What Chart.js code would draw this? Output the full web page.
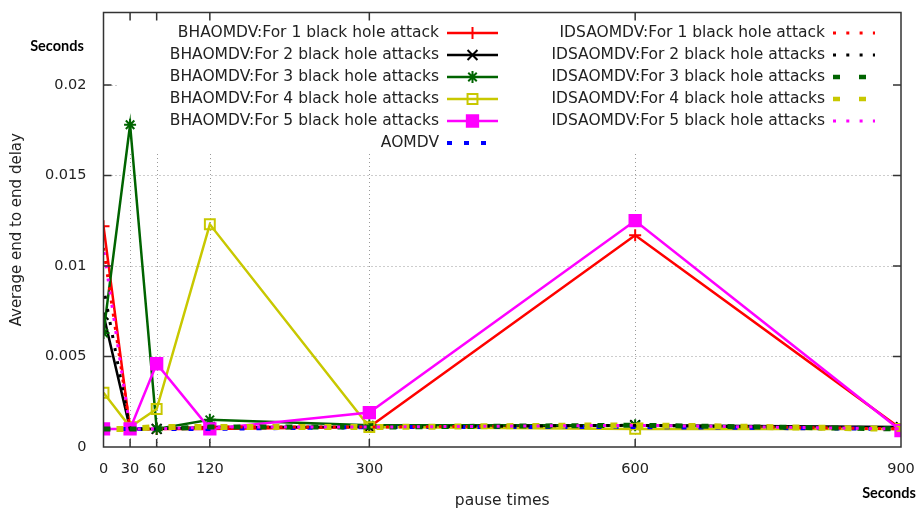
<!DOCTYPE html>
<html>
<head>
<meta charset="utf-8">
<script src="https://cdn.jsdelivr.net/npm/chart.js@4.4.1/dist/chart.umd.min.js"></script>
<style>
  body { margin: 0; background: #fff; }
  #can-div { width: 919px; height: 512px; }
</style>
</head>
<body>
<div id="can-div"><canvas id="myChart" width="919" height="512"></canvas></div>
<script>
// pause times on x, delay (s) on y
const pauseTimes = [0, 30, 60, 120, 300, 600, 900];
const xTickValues = [0, 30, 60, 120, 300, 600, 900];
const yTickValues = [0, 0.005, 0.01, 0.015, 0.02];

const bh1 = [0.0122, 0.001, 0.001, 0.001, 0.0011, 0.0117, 0.001];
const bh2 = [0.0073, 0.001, 0.001, 0.0011, 0.0011, 0.0012, 0.0011];
const bh3 = [0.0063, 0.0178, 0.001, 0.0015, 0.0012, 0.0012, 0.001];
const bh4 = [0.003, 0.0011, 0.0021, 0.0123, 0.0011, 0.001, 0.001];
const bh5 = [0.001, 0.001, 0.0046, 0.001, 0.0019, 0.0125, 0.0009];
const aomdv = [0.001, 0.001, 0.001, 0.001, 0.0011, 0.0011, 0.001];
const ids1 = [0.011, 0.001, 0.001, 0.0011, 0.0011, 0.0012, 0.001];
const ids2 = [0.0088, 0.001, 0.001, 0.0011, 0.0011, 0.0012, 0.001];
const ids3 = [0.001, 0.001, 0.001, 0.0011, 0.0011, 0.0012, 0.001];
const ids4 = [0.001, 0.001, 0.0011, 0.0011, 0.0011, 0.0012, 0.001];
const ids5 = [0.011, 0.001, 0.001, 0.0011, 0.0011, 0.0012, 0.001];

const seriesNames = [
	'BHAOMDV:For 1 black hole attack',
	'BHAOMDV:For 2 black hole attacks',
	'BHAOMDV:For 3 black hole attacks',
	'BHAOMDV:For 4 black hole attacks',
	'BHAOMDV:For 5 black hole attacks',
	'AOMDV',
	'IDSAOMDV:For 1 black hole attack',
	'IDSAOMDV:For 2 black hole attacks',
	'IDSAOMDV:For 3 black hole attacks',
	'IDSAOMDV:For 4 black hole attacks',
	'IDSAOMDV:For 5 black hole attacks'
];

const TXT = '#222';
const FONT = 'DejaVu Sans';

function toPoints(values)
{
	let pts = [];
	for (var i = 0; i < pauseTimes.length; i++)
		pts.push({ x: pauseTimes[i], y: values[i] });
	return pts;
}

function series(idx, values, color, width, dash, pStyle, pRadius, pFill, dashOff)
{
	return {
		label: seriesNames[idx],
		data: toPoints(values),
		borderColor: color,
		backgroundColor: color,
		borderWidth: width,
		borderDash: dash,
		borderDashOffset: dashOff || 0,
		borderCapStyle: 'butt',
		pointStyle: pStyle || 'circle',
		pointRadius: pRadius,
		pointBorderWidth: 2,
		pointBorderColor: color,
		pointBackgroundColor: pFill || color,
		pointHoverRadius: pRadius,
		showLine: true,
		fill: false,
		tension: 0,
		order: 11 - idx
	};
}

const datasets = [
	series(0, bh1, '#ff0000', 2.5, [], 'cross', 6),
	series(1, bh2, '#000000', 2.5, [], 'crossRot', 7),
	series(2, bh3, '#006400', 2.5, [], 'star', 6),
	series(3, bh4, '#c8c800', 2.5, [], 'rect', 7, 'rgba(0,0,0,0)'),
	series(4, bh5, '#ff00ff', 2.5, [], 'rect', 8),
	series(5, aomdv, '#0000ff', 4, [5, 12], false, 0),
	series(6, ids1, '#ff0000', 3, [3, 10.3], false, 0),
	series(7, ids2, '#000000', 3, [3, 10.3], false, 0, null, 5),
	series(8, ids3, '#006400', 5, [7, 19], false, 0),
	series(9, ids4, '#c8c800', 6, [7, 19], false, 0, null, 13),
	series(10, ids5, '#ff00ff', 3, [3, 10.3], false, 0, null, 9)
];

// gnuplot-like frame: dotted grid, opaque key, border with inward ticks
const gnuFrame = {
	id: 'gnuFrame',
	beforeDatasetsDraw(chart) {
		const ctx = chart.ctx, a = chart.chartArea;
		const xs = chart.scales.x, ys = chart.scales.y;
		ctx.save();
		ctx.strokeStyle = '#9a9a9a';
		ctx.lineWidth = 1;
		ctx.setLineDash([1, 3]);
		xTickValues.forEach(v => {
			if (v === 0 || v === 900) return;
			const px = Math.round(xs.getPixelForValue(v)) + 0.5;
			ctx.beginPath(); ctx.moveTo(px, a.bottom); ctx.lineTo(px, a.top); ctx.stroke();
		});
		yTickValues.forEach(v => {
			if (v === 0) return;
			const py = Math.round(ys.getPixelForValue(v)) + 0.5;
			ctx.beginPath(); ctx.moveTo(a.left, py); ctx.lineTo(a.right, py); ctx.stroke();
		});
		// key background
		ctx.setLineDash([]);
		ctx.fillStyle = '#fff';
		ctx.fillRect(118, a.top + 1, a.right - 119, 140);
		ctx.restore();
	},
	afterDatasetsDraw(chart) {
		const ctx = chart.ctx, a = chart.chartArea;
		const xs = chart.scales.x, ys = chart.scales.y;
		ctx.save();

		// key
		ctx.font = '15.5px "' + FONT + '"';
		ctx.textAlign = 'right';
		ctx.textBaseline = 'middle';
		chart.data.datasets.forEach((ds, i) => {
			const col = i < 6 ? 0 : 1;
			const row = i < 6 ? i : i - 6;
			const y = 33 + row * 22;
			const tx = col === 0 ? 439 : 825;
			const x1 = col === 0 ? 447 : 833;
			const x2 = col === 0 ? 498 : 875;
			ctx.fillStyle = TXT;
			ctx.fillText(ds.label, tx, y);
			ctx.strokeStyle = ds.borderColor;
			ctx.lineWidth = Math.min(ds.borderWidth, 4.5);
			ctx.lineCap = 'butt';
			ctx.setLineDash(ds.borderDash);
			ctx.beginPath(); ctx.moveTo(x1, y); ctx.lineTo(x2, y); ctx.stroke();
			ctx.setLineDash([]);
			if (ds.pointRadius > 0) {
				ctx.fillStyle = ds.pointBackgroundColor;
				ctx.strokeStyle = ds.pointBorderColor;
				ctx.lineWidth = ds.pointBorderWidth;
				Chart.helpers.drawPoint(ctx, {
					pointStyle: ds.pointStyle,
					radius: ds.pointRadius,
					borderWidth: ds.pointBorderWidth,
					rotation: 0
				}, (x1 + x2) / 2, y);
			}
		});

		// border
		ctx.strokeStyle = '#333';
		ctx.lineWidth = 1.5;
		ctx.strokeRect(a.left, a.top, a.right - a.left, a.bottom - a.top);

		// inward ticks, mirrored
		const tl = 8;
		ctx.beginPath();
		xTickValues.forEach(v => {
			if (v === 0 || v === 900) return;
			const px = xs.getPixelForValue(v);
			ctx.moveTo(px, a.bottom); ctx.lineTo(px, a.bottom - tl);
			ctx.moveTo(px, a.top); ctx.lineTo(px, a.top + tl);
		});
		yTickValues.forEach(v => {
			if (v === 0) return;
			const py = ys.getPixelForValue(v);
			ctx.moveTo(a.left, py); ctx.lineTo(a.left + tl, py);
			ctx.moveTo(a.right, py); ctx.lineTo(a.right - tl, py);
		});
		ctx.stroke();

		// unit labels
		ctx.fillStyle = '#000';
		ctx.font = 'bold 14.5px Lato';
		ctx.textAlign = 'center';
		ctx.textBaseline = 'middle';
		ctx.fillText('Seconds', 57, 46);
		ctx.fillText('Seconds', 889, 493);
		ctx.restore();
	}
};

const config = {
	type: 'scatter',
	data: { datasets: datasets },
	plugins: [gnuFrame],
	options: {
		responsive: false,
		devicePixelRatio: 1,
		animation: false,
		layout: { padding: { top: 12.5, right: 18, bottom: 0, left: 0 } },
		plugins: {
			legend: { display: false },
			tooltip: { enabled: false }
		},
		scales: {
			x: {
				type: 'linear',
				position: 'bottom',
				min: 0,
				max: 900,
				afterBuildTicks: s => { s.ticks = xTickValues.map(v => ({ value: v })); },
				afterFit: s => { s.height = 65; s.paddingLeft = 0; s.paddingRight = 0; },
				grid: { display: false },
				border: { display: false },
				ticks: {
					color: TXT,
					font: { family: FONT, size: 14.5 },
					padding: 6,
					maxRotation: 0,
					autoSkip: false
				},
				title: {
					display: true,
					text: 'pause times',
					color: TXT,
					font: { family: FONT, size: 15.5 },
					padding: { top: 0, bottom: 2 }
				}
			},
			y: {
				type: 'linear',
				min: 0,
				max: 0.024,
				afterBuildTicks: s => { s.ticks = yTickValues.map(v => ({ value: v })); },
				afterFit: s => { s.width = 103.5; s.paddingTop = 0; s.paddingBottom = 0; },
				grid: { display: false },
				border: { display: false },
				ticks: {
					color: TXT,
					font: { family: FONT, size: 14.5 },
					padding: 9,
					callback: v => String(v)
				},
				title: {
					display: true,
					text: 'Average end to end delay',
					color: TXT,
					font: { family: FONT, size: 15 },
					padding: { top: 8, bottom: 0 }
				}
			}
		}
	}
};

const myChart = new Chart(document.getElementById('myChart'), config);
</script>
</body>
</html>
